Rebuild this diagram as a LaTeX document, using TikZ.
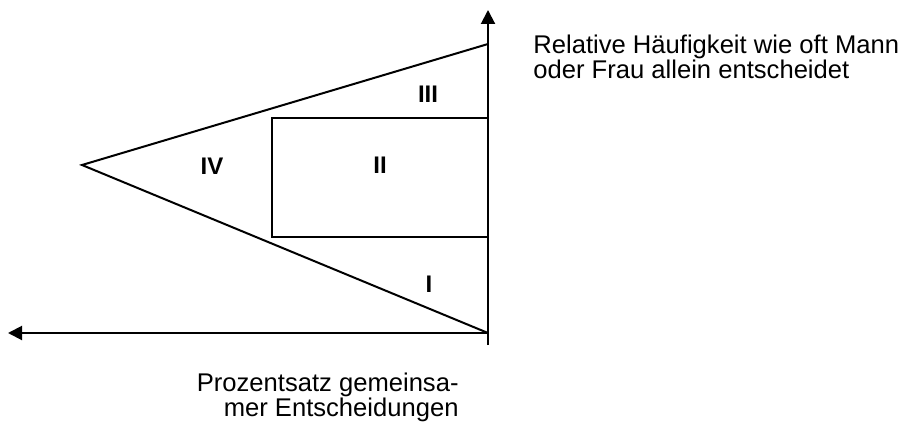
\documentclass[tikz,border=0pt]{standalone}
\usepackage{fontspec}
\setmainfont{Liberation Sans}
\usetikzlibrary{arrows.meta, positioning}

\begin{document}
\begin{tikzpicture}[
        x=0.5pt, y=-0.5pt,
        axis_line/.style={
            line width=1pt,
            -{Triangle[length=7pt, width=7pt]}
        },
        shape_line/.style={
            line width=1pt,
            line join=miter
        },
        area_label/.style={
            font=\fontsize{12}{14}\selectfont\bfseries,
            inner sep=0pt
        },
        axis_text/.style={
            font=\fontsize{12.8}{12.5}\selectfont,
            inner sep=0pt
        }
    ]

    \useasboundingbox (0,0) rectangle (914,427);

    % Axes
    \coordinate (origin) at (488,333);
    \coordinate (ybottom) at (488,345);
    \coordinate (ytop) at (488,10);
    \coordinate (xleft) at (8,333);
    \draw[axis_line] (ybottom) -- (ytop);
    \draw[axis_line] (origin) -- (xleft);

    % Triangle
    \coordinate (apex) at (82,165);
    \coordinate (tritop) at (488,44);
    \draw[shape_line] (tritop) -- (apex) -- (origin);

    % Rectangle
    \coordinate (recttl) at (272,118);
    \coordinate (rectbr) at (488,237);
    \draw[shape_line] (rectbr |- recttl) -- (recttl) -- (recttl |- rectbr) -- (rectbr);

    % Area labels
    \node[area_label] (lblIII) at (428,94) {III};
    \node[area_label] (lblII) at (380,165) {II};
    \node[area_label] (lblIV) at (212,166) {IV};
    \node[area_label] (lblI) at (429,284) {I};

    % Axis texts
    \node[axis_text, anchor=north west, align=left] (ytext) at (533,35)
        {Relative Häufigkeit wie oft Mann\\oder Frau allein entscheidet};
    \node[axis_text, anchor=north east, align=right] (xtext) at (459,373)
        {Prozentsatz gemeinsa-\\mer Entscheidungen};

\end{tikzpicture}
\end{document}
